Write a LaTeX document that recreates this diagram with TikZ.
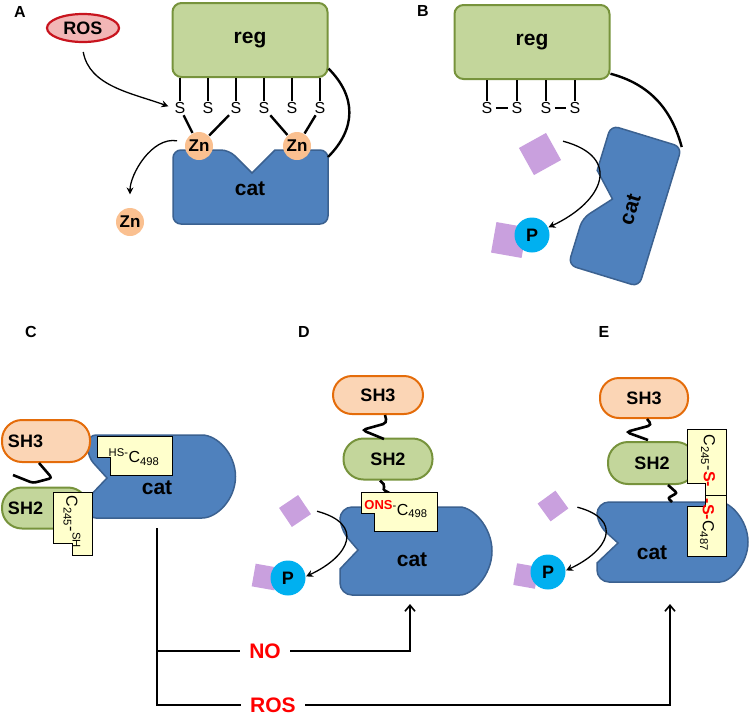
\documentclass[tikz,border=0pt]{standalone}
\usepackage{fontspec}
\setmainfont{Liberation Sans}
\usepackage{xcolor}
\usepackage{tikz}
\usetikzlibrary{arrows.meta}
\usetikzlibrary{shapes.geometric}

\definecolor{regFill}{HTML}{C3D69B}
\definecolor{regLine}{HTML}{77933C}
\definecolor{catFill}{HTML}{4F81BD}
\definecolor{catLine}{HTML}{3B6190}
\definecolor{rosFill}{HTML}{F2B6B6}
\definecolor{rosLine}{HTML}{C8141E}
\definecolor{znFill}{HTML}{FAC090}
\definecolor{shFill}{HTML}{FBD5B5}
\definecolor{shLine}{HTML}{E46C0A}
\definecolor{tagFill}{HTML}{FFFFCC}
\definecolor{subFill}{HTML}{C9A0DE}
\definecolor{pFill}{HTML}{00B0F0}
\definecolor{redText}{HTML}{FF0000}

\begin{document}
\begin{tikzpicture}[x = 1pt, y = 1pt, line width = 1.2pt,
    panel/.style = {font = \fontsize{16}{18}\selectfont\bfseries},
    regbox/.style = {draw = regLine, fill = regFill, line width = 2pt, rounded corners = 9pt, minimum width = 155pt, minimum height = 74pt, font = \fontsize{21}{23}\selectfont\bfseries},
    catshape/.style = {draw = catLine, fill = catFill, line width = 1.5pt},
    catlabel/.style = {font = \fontsize{21}{23}\selectfont\bfseries},
    ros/.style = {ellipse, draw = rosLine, fill = rosFill, line width = 2.2pt, minimum width = 72pt, minimum height = 28pt, inner sep = 0pt, font = \fontsize{18}{20}\selectfont\bfseries},
    zn/.style = {circle, fill = znFill, minimum size = 28pt, inner sep = 0pt, font = \fontsize{17}{19}\selectfont\bfseries},
    sulf/.style = {inner sep = 1pt, font = \fontsize{16}{18}\selectfont},
    bond/.style = {line width = 2.4pt},
    linker/.style = {line width = 2.6pt, rounded corners = 4pt},
    pill/.style = {line width = 2pt, inner sep = 0pt, font = \fontsize{18}{20}\selectfont\bfseries},
    shthree/.style = {pill, draw = shLine, fill = shFill},
    shtwo/.style = {pill, draw = regLine, fill = regFill},
    tagbox/.style = {draw = black, fill = tagFill, line width = 0.6pt},
    tagtext/.style = {inner sep = 0pt, font = \fontsize{16}{18}\selectfont},
    substrate/.style = {fill = subFill, minimum size = 23pt, inner sep = 0pt},
    phos/.style = {circle, fill = pFill, minimum size = 35pt, inner sep = 0pt, font = \fontsize{18}{20}\selectfont\bfseries},
    bendarrow/.style = {-{Stealth[length = 7pt, width = 7pt]}, line width = 1.3pt},
    flowline/.style = {line width = 1.6pt},
    trigger/.style = {text = redText, inner xsep = 9pt, inner ysep = 1pt, font = \fontsize{21}{23}\selectfont\bfseries}]
    \useasboundingbox (0,0) rectangle (750,-716);

    % A
    \node[panel](labA) at (20,-12) {A};
    \node[ros](rosA) at (83,-28) {ROS};
    \node[regbox](regA) at (250,-40) {reg};
    \draw[catshape] (252,-173) -- (275,-150) [rounded corners = 8pt] -- (328,-150) -- (328,-224) -- (173,-224) -- (173,-150) -- (229,-150) [sharp corners] -- cycle;
    \node[catlabel](catA) at (250,-189) {cat};
    \coordinate (catAne) at (328,-157);
    \foreach \x [count = \i] in {180,208,236,264,292,320}{
      \node[sulf](sA\i) at (\x,-108) {S};
      \draw[bond] (sA\i.north) -- (sA\i.north |- regA.south);
    }
    \node[zn](znA1) at (199,-146) {Zn};
    \node[zn](znA2) at (297,-146) {Zn};
    \node[zn](znA3) at (130,-222) {Zn};
    \draw[bond] (sA1) -- (znA1);
    \draw[bond] (sA3) -- (znA1);
    \draw[bond] (sA4) -- (znA2);
    \draw[bond] (sA6) -- (znA2);
    \draw[bond] (regA.-20) to[out = -45, in = 45, looseness = 1.15] (catAne);
    \draw[bendarrow, shorten <= 9pt, shorten >= 5pt] (rosA.-95) to[out = -80, in = 160] (sA1.west);
    \draw[bendarrow, shorten <= 8pt, shorten >= 13pt] (znA1.165) to[out = 170, in = 90] (znA3.north);

    % B
    \node[panel](labB) at (423,-11) {B};
    \node[regbox](regB) at (532,-42) {reg};
    \foreach \x [count = \i] in {487,517,546,575}{
      \node[sulf](sB\i) at (\x,-108) {S};
      \draw[bond] (sB\i.north) -- (sB\i.north |- regB.south);
    }
    \draw[bond, shorten <= 2pt, shorten >= 2pt] (sB1) -- (sB2);
    \draw[bond, shorten <= 2pt, shorten >= 2pt] (sB3) -- (sB4);
    \begin{scope}[shift = {(625,-206)}, rotate = -17]
      \draw[catshape] (-14,3) -- (-37,26) [rounded corners = 8pt] -- (-37,73) -- (37,73) -- (37,-73) -- (-37,-73) -- (-37,-24) [sharp corners] -- cycle;
      \node[catlabel, rotate = 73](catB) at (6,-2) {cat};
      \coordinate (catBne) at (37,73);
    \end{scope}
    \draw[bond] (regB.-22) to[out = -15, in = 105] (catBne);
    \node[substrate, minimum size = 31pt, rotate = 29](subB1) at (540,-154) {};
    \node[substrate, minimum size = 31pt, rotate = -10](subB2) at (509,-240) {};
    \node[phos](pB) at (532,-235) {P};
    \draw[bendarrow] ([xshift = 9pt, yshift = 5pt]subB1.east) to[out = -15, in = 25, looseness = 1.8] (pB.25);

    % C
    \node[panel](labC) at (31,-332) {C};
    \draw[catshape] (107,-478) -- (88,-498) [rounded corners = 8pt] -- (88,-518) -- (194,-518) arc[start angle = -90, end angle = 90, radius = 41.5] -- (88,-435) -- (88,-457) [sharp corners] -- cycle;
    \node[catlabel](catC) at (157,-488) {cat};
    \coordinate (catCbot) at (157,-528);
    \node[shthree, rounded corners = 20pt, minimum width = 88pt, minimum height = 42pt, text width = 76pt, inner xsep = 6pt, align = left](sh3C) at (46,-441) {SH3};
    \node[shtwo, rounded corners = 20pt, minimum width = 86pt, minimum height = 41pt, text width = 74pt, inner xsep = 6pt, align = left](sh2C) at (45,-508) {SH2};
    \draw[linker, rounded corners = 3pt] ([xshift = -7pt]sh3C.south) -- ++(13,-15) -- ++(-19,-5) -- ++(-20,8);
    \draw[tagbox] (97,-436) -- (172,-436) -- (172,-475) -- (110,-475) -- (110,-457) -- (97,-457) -- cycle;
    \node[tagtext](tagC1) at (134,-457) {\textsuperscript{HS-}C\textsubscript{498}};
    \draw[tagbox] (53,-492) -- (92,-492) -- (92,-555) -- (72,-555) -- (72,-543) -- (53,-543) -- cycle;
    \node[tagtext, rotate = -90](tagC2) at (72,-522) {C\textsubscript{245}-\textsuperscript{SH}};

    % D
    \node[panel](labD) at (304,-332) {D};
    \draw[catshape] (358,-550) -- (340,-569) [rounded corners = 12pt] -- (340,-595) -- (448,-595) arc[start angle = -90, end angle = 90, radius = 44] -- (340,-507) -- (340,-529) [sharp corners] -- cycle;
    \node[catlabel](catD) at (412,-560) {cat};
    \coordinate (catDbot) at (410,-604);
    \node[shthree, rounded corners = 19pt, minimum width = 90pt, minimum height = 38pt](sh3D) at (378,-395) {SH3};
    \node[shtwo, rounded corners = 20pt, minimum width = 89pt, minimum height = 41pt](sh2D) at (388,-459) {SH2};
    \draw[linker] ([xshift = 7pt]sh3D.south) -- ++(2,-8) -- ++(-25,-7) -- ++(22,-9);
    \draw[linker, rounded corners = 2pt] ([xshift = -8pt]sh2D.south) -- ++(5,-5) -- ++(-2,-4) -- ++(9,-5);
    \draw[tagbox] (361,-492) -- (437,-492) -- (437,-531) -- (374,-531) -- (374,-513) -- (361,-513) -- cycle;
    \node[tagtext](tagD) at (396,-509) {\textsuperscript{\textcolor{redText}{\bfseries\fontsize{13}{15}\selectfont ONS}-}C\textsubscript{498}};
    \node[substrate, rotate = 34](subD1) at (295,-511) {};
    \node[substrate, rotate = -10](subD2) at (265,-577) {};
    \node[phos](pD) at (288,-578) {P};
    \draw[bendarrow] ([xshift = 12pt, yshift = -7pt]subD1.east) to[out = -15, in = 25, looseness = 1.9] (pD.5);

    % E
    \node[panel](labE) at (604,-332) {E};
    \draw[catshape] (618,-543) -- (597,-563) [rounded corners = 12pt] -- (597,-582) -- (708,-582) arc[start angle = -90, end angle = 90, radius = 40] -- (597,-502) -- (597,-524) [sharp corners] -- cycle;
    \node[catlabel](catE) at (652,-553) {cat};
    \coordinate (catEbot) at (670,-604);
    \coordinate (catEtop) at (672,-502);
    \node[shthree, rounded corners = 19pt, minimum width = 88pt, minimum height = 40pt](sh3E) at (644,-398) {SH3};
    \node[shtwo, rounded corners = 20pt, minimum width = 88pt, minimum height = 42pt](sh2E) at (652,-463) {SH2};
    \draw[linker] ([xshift = 3pt]sh3E.south) -- ++(5,-6) -- ++(-26,-7) -- ++(22,-8);
    \draw[linker, rounded corners = 2pt] ([xshift = 16pt]sh2E.south) -- ++(9,-8) -- ++(-9,-5) -- (catEtop);
    \draw[tagbox] (687,-429) -- (726,-429) -- (726,-495) -- (705,-495) -- (705,-483) -- (687,-483) -- cycle;
    \node[tagtext, rotate = -90](tagE1) at (708,-461) {C\textsubscript{245}-\textcolor{redText}{\bfseries S-}};
    \draw[tagbox] (705,-495) -- (726,-495) -- (726,-556) -- (687,-556) -- (687,-506) -- (705,-506) -- cycle;
    \node[tagtext, rotate = -90](tagE2) at (707,-525) {\textcolor{redText}{\bfseries -S-}C\textsubscript{487}};
    \node[substrate, minimum size = 22pt, rotate = 36](subE1) at (553,-506) {};
    \node[substrate, minimum size = 22pt, rotate = -10](subE2) at (526,-576) {};
    \node[phos](pE) at (548,-572) {P};
    \draw[bendarrow] ([xshift = 15pt, yshift = -8pt]subE1.east) to[out = -15, in = 25, looseness = 1.9] (pE.5);

    % NO / ROS
    \node[trigger](no) at (265,-651) {NO};
    \node[trigger](ros) at (273,-705) {ROS};
    \draw[flowline] (catCbot) |- (ros.west);
    \draw[flowline] (catCbot |- no.west) -- (no.west);
    \draw[flowline, -{Straight Barb[length = 6pt, width = 10pt]}] (no.east) -| (catDbot);
    \draw[flowline, -{Straight Barb[length = 6pt, width = 10pt]}] (ros.east) -| (catEbot);
\end{tikzpicture}
\end{document}
